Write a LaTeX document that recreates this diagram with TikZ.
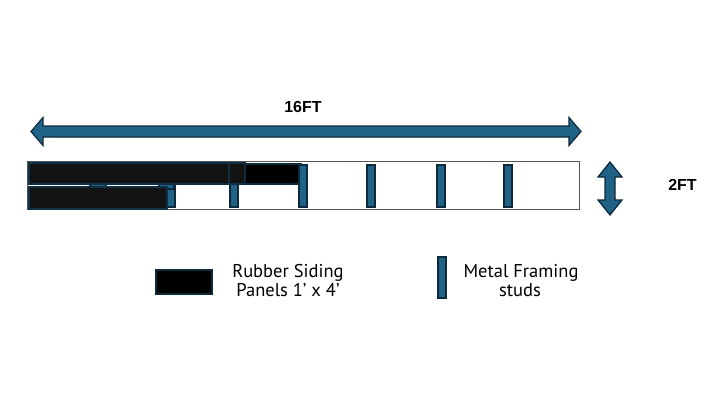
\documentclass[tikz,border=0pt]{standalone}
\usepackage{fontspec}
\setmainfont{Liberation Sans}
\newfontfamily\legendfont{PT Sans}
\definecolor{studblue}{HTML}{1F6286}
\definecolor{studedge}{HTML}{0D2A3C}
\definecolor{panelfill}{HTML}{131313}
\definecolor{paneledge}{HTML}{0F3045}
\definecolor{framegray}{HTML}{555555}
\tikzset{
  stud/.style={fill=studblue, draw=studedge, line width=1.1pt},
  panel/.style={fill=panelfill, draw=paneledge, line width=1.3pt},
  dimarrow/.style={fill=studblue, draw=studedge, line width=1.2pt, line join=miter},
  dimlabel/.style={font=\bfseries\fontsize{16}{18}\selectfont, inner sep=0pt, anchor=base},
  legendtext/.style={font=\legendfont\fontsize{18.5}{20}\selectfont, inner sep=0pt, anchor=base},
}
\begin{document}
\begin{tikzpicture}[x=1pt,y=-1pt]
\useasboundingbox (0,0) rectangle (711,400);
% wall outline
\draw[framegray, line width=1pt] (27,161) rectangle (579,209);
% studs
\foreach \sx in {167,230,367,437,504} {
  \draw[stud] (\sx,165) rectangle ++(8,42);
}
\draw[stud] (90,182) rectangle (106,189);
\draw[stud] (159,182) rectangle (174,189);
% panels
\draw[panel] (29,163) rectangle (229,184);
\draw[panel] (229,163) rectangle (245,184);
\draw[panel, fill=black, draw=studedge] (245,164) rectangle (301,184);
\draw[panel] (29,187) rectangle (167,209);
\draw[stud] (299,165) rectangle (307,207);
% 16FT dimension arrow
\draw[dimarrow] (31,131.5) -- (43,117.5) -- (43,126) -- (569,126) -- (569,117.5)
  -- (581,131.5) -- (569,145.5) -- (569,137) -- (43,137) -- (43,145.5) -- cycle;
\node[dimlabel] (len) at (303,112) {16FT};
% 2FT dimension arrow
\draw[dimarrow] (610,162) -- (622,177) -- (615,177) -- (615,200) -- (622,200)
  -- (610,215) -- (598,200) -- (605,200) -- (605,177) -- (598,177) -- cycle;
\node[dimlabel] (hgt) at (682.5,190) {2FT};
% legend
\draw[fill=black, draw=studedge, line width=2.5pt] (156,270) rectangle (212,294);
\node[legendtext] (lp1) at (288,277.5) {Rubber Siding};
\node[legendtext] (lp2) at (288,296.5) {Panels 1’ x 4’};
\draw[stud] (438,257) rectangle (446,298);
\node[legendtext] (ls1) at (521,277.5) {Metal Framing};
\node[legendtext] (ls2) at (520,296.5) {studs};
\end{tikzpicture}
\end{document}
